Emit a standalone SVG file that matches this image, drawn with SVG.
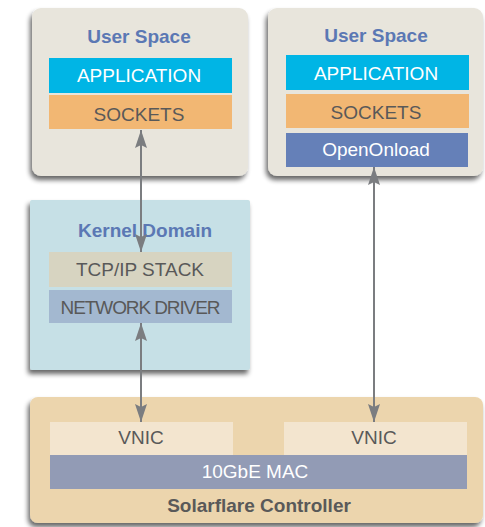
<svg xmlns="http://www.w3.org/2000/svg" width="485" height="527" viewBox="0 0 485 527">
<defs>
<filter id="sh" x="-10%" y="-10%" width="125%" height="125%">
<feGaussianBlur in="SourceAlpha" stdDeviation="2.5"/>
<feOffset dx="-2" dy="4" result="b"/>
<feComponentTransfer><feFuncA type="linear" slope="0.6"/></feComponentTransfer>
<feMerge><feMergeNode/><feMergeNode in="SourceGraphic"/></feMerge>
</filter>
<marker id="ah" viewBox="0 0 18 12" refX="18" refY="6" markerWidth="18" markerHeight="12" markerUnits="userSpaceOnUse" orient="auto-start-reverse">
<path d="M0,0 L18,6 L0,12 L3,6 z" fill="#7b7d80"/>
</marker>
</defs>
<style>
.title{font-family:"Liberation Sans",Arial,sans-serif;font-weight:bold;font-size:19px;fill:#5b78b4;text-anchor:middle}
.lbl{font-family:"Liberation Sans",Arial,sans-serif;font-size:19px;text-anchor:middle}
.w{fill:#ffffff}
.g{fill:#595959}
.conn{stroke:#7b7d80;stroke-width:2;fill:none;marker-start:url(#ah);marker-end:url(#ah)}
</style>
<rect width="485" height="527" fill="#ffffff"/>
<g id="user-space-left">
<rect x="32" y="8" width="216" height="168" rx="9" fill="#e8e5dc" filter="url(#sh)"/>
<text class="title" x="139" y="43">User Space</text>
<rect x="49" y="58" width="183" height="35" fill="#00b5e5"/>
<text class="lbl w" x="139" y="82">APPLICATION</text>
<rect x="49" y="95" width="183" height="34" fill="#f2b773"/>
<text class="lbl g" x="139" y="121">SOCKETS</text>
</g>
<g id="user-space-right">
<rect x="268" y="8" width="215" height="168" rx="9" fill="#e8e5dc" filter="url(#sh)"/>
<text class="title" x="376" y="42">User Space</text>
<rect x="286" y="55" width="183" height="35" fill="#00b5e5"/>
<text class="lbl w" x="376" y="80">APPLICATION</text>
<rect x="286" y="94" width="183" height="34" fill="#f2b773"/>
<text class="lbl g" x="376" y="119">SOCKETS</text>
<rect x="286" y="133" width="182" height="34" fill="#6580b8"/>
<text class="lbl w" x="376" y="156">OpenOnload</text>
</g>
<g id="kernel-domain">
<rect x="30" y="200" width="220" height="170" rx="2" fill="#c6e0e6" filter="url(#sh)"/>
<text class="title" x="145" y="237">Kernel Domain</text>
<rect x="49" y="252" width="183" height="35" fill="#d7d4c1"/>
<text class="lbl g" x="140" y="276">TCP/IP STACK</text>
<rect x="49" y="290" width="183" height="33" fill="#a3b8d0"/>
<text class="lbl g" x="140" y="314" letter-spacing="-1.1">NETWORK DRIVER</text>
</g>
<g id="solarflare-controller">
<rect x="30" y="397" width="453" height="126" rx="8" fill="#ecd5ad" filter="url(#sh)"/>
<rect x="50" y="422" width="183" height="33" fill="#f3e5cf"/>
<text class="lbl g" x="141" y="444">VNIC</text>
<rect x="284" y="422" width="183" height="33" fill="#f3e5cf"/>
<text class="lbl g" x="374" y="444">VNIC</text>
<rect x="50" y="455" width="417" height="34" fill="#929bb5"/>
<text class="lbl w" x="255" y="478">10GbE MAC</text>
<text class="lbl g" x="259" y="512" font-weight="bold" font-size="18">Solarflare Controller</text>
</g>
<g id="connectors">
<line class="conn" x1="141" y1="130" x2="141" y2="252"/>
<line class="conn" x1="141" y1="323" x2="141" y2="422"/>
<line class="conn" x1="374" y1="167" x2="374" y2="422"/>
</g>
</svg>
